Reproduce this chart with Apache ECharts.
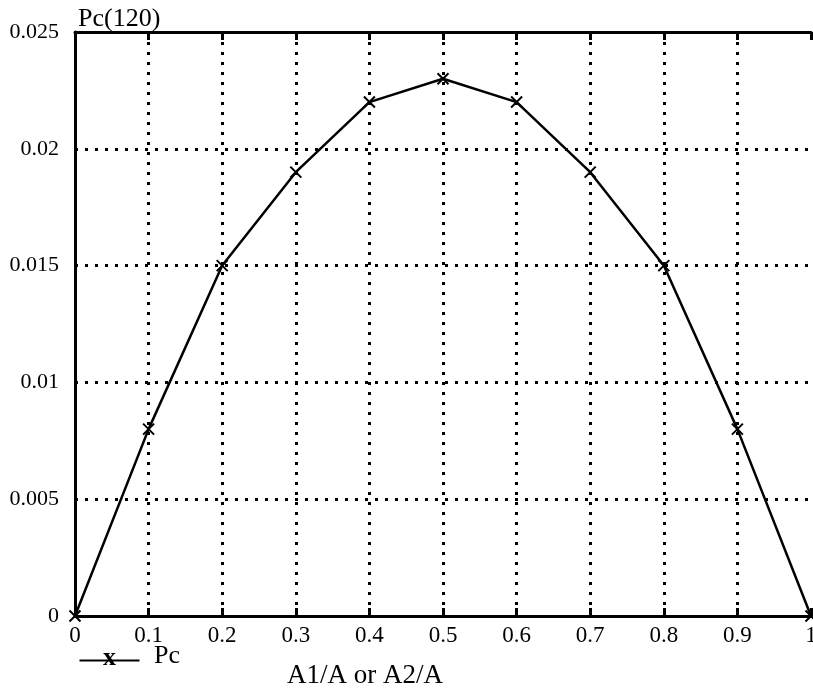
<!DOCTYPE html>
<html><head><meta charset="utf-8">
<script src="https://cdn.jsdelivr.net/npm/echarts@6/dist/echarts.min.js"></script>
<style>html,body{margin:0;padding:0;background:#fff;overflow:hidden}#c{width:813px;height:693px}</style>
</head><body><div id="c"></div>
<script>
const xValues = [0, 0.1, 0.2, 0.3, 0.4, 0.5, 0.6, 0.7, 0.8, 0.9, 1];
const pcValues = [0, 0.008, 0.015, 0.019, 0.022, 0.023, 0.022, 0.019, 0.015, 0.008, 0];
const yTicks = [0, 0.005, 0.01, 0.015, 0.02, 0.025];
const seriesName = 'Pc';
const yTitle = 'Pc(120)';
const xTitle = 'A1/A or A2/A';

const font = 'Liberation Serif';
const chart = echarts.init(document.getElementById('c'), null, {renderer: 'canvas'});
const crossPath = 'path://M0,0L10,10M10,0L0,10';
chart.setOption({
  animation: false,
  backgroundColor: '#fff',
  grid: {left: 75, right: 2, top: 32, bottom: 77, containLabel: false, outerBoundsMode: 'none'},
  title: {text: yTitle, left: 73, top: 1, textStyle: {fontFamily: font, fontSize: 26, fontWeight: 'normal', color: '#000'}},
  graphic: [
    {type: 'line', left: 77, top: 658, shape: {x1: 0, y1: 0, x2: 60, y2: 0}, style: {stroke: '#000', lineWidth: 2}},
    {type: 'text', left: 103, top: 645, style: {text: 'x', font: 'bold 26px "Liberation Serif"', fill: '#000'}},
    {type: 'text', left: 154, top: 643, style: {text: seriesName, font: '26px "Liberation Serif"', fill: '#000'}},
    {type: 'text', left: 287, top: 662, style: {text: xTitle, font: '27px "Liberation Serif"', fill: '#000'}}
  ],
  xAxis: [{
    type: 'value', min: 0, max: 1, interval: 0.1, position: 'bottom',
    axisLine: {show: true, onZero: false, lineStyle: {color: '#000', width: 3}},
    axisTick: {show: true, inside: true, length: 8, lineStyle: {color: '#000', width: 3}},
    axisLabel: {fontFamily: font, fontSize: 23, color: '#000', margin: 8,
      formatter: v => String(Math.round(v * 10) / 10)},
    splitLine: {show: true, showMaxLine: false, lineStyle: {color: '#000', width: 3, type: [3, 7]}}
  }, {
    type: 'value', min: 0, max: 1, interval: 0.1, position: 'top',
    axisLine: {show: true, onZero: false, lineStyle: {color: '#000', width: 3}},
    axisTick: {show: true, inside: true, length: 8, lineStyle: {color: '#000', width: 3}},
    axisLabel: {show: false}, splitLine: {show: false}
  }],
  yAxis: {
    type: 'value', min: 0, max: 0.025, interval: 0.005,
    axisLine: {show: true, onZero: false, lineStyle: {color: '#000', width: 3}},
    axisTick: {show: false},
    axisLabel: {fontFamily: font, fontSize: 22, color: '#000', margin: 16,
      formatter: v => { const i = yTicks.findIndex(t => Math.abs(t - v) < 1e-9); return i >= 0 ? String(yTicks[i]) : ''; }},
    splitLine: {show: true, lineStyle: {color: '#000', width: 3, type: [3, 7]}}
  },
  series: [{
    name: seriesName, type: 'line',
    data: xValues.map((x, i) => [x, pcValues[i]]),
    symbol: crossPath, symbolSize: 11,
    lineStyle: {color: '#000', width: 2.5},
    itemStyle: {color: 'none', borderColor: '#000', borderWidth: 2},
    clip: false, z: 5
  }]
});
</script></body></html>
